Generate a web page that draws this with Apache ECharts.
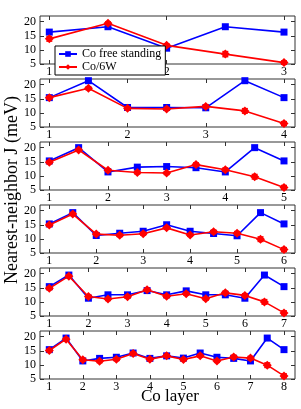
<!DOCTYPE html>
<html><head><meta charset="utf-8">
<script src="https://cdn.jsdelivr.net/npm/echarts@6/dist/echarts.min.js"></script>
<style>html,body{margin:0;padding:0;background:#fff}#c{width:301px;height:409px}</style>
</head><body><div id="c"></div>
<script>
// layer counts for each panel
var layerCounts = [3, 4, 5, 6, 7, 8];
var yTicks = [5, 10, 15, 20];
// x positions of points (layers and interfaces)
var pos1 = [1, 1.5, 2, 2.5, 3];
var pos2 = [1, 1.5, 2, 2.5, 3, 3.5, 4];
var pos3 = [1, 1.5, 2, 2.5, 3, 3.5, 4, 4.5, 5];
var pos4 = [1, 1.5, 2, 2.5, 3, 3.5, 4, 4.5, 5, 5.5, 6];
var pos5 = [1, 1.5, 2, 2.5, 3, 3.5, 4, 4.5, 5, 5.5, 6, 6.5, 7];
var pos6 = [1, 1.5, 2, 2.5, 3, 3.5, 4, 4.5, 5, 5.5, 6, 6.5, 7, 7.5, 8];
// Co free standing
var blue1 = [16.3, 18.2, 10.6, 18.2, 16.3];
var blue2 = [15.4, 21.4, 11.9, 11.9, 11.8, 21.4, 15.4];
var blue3 = [15.3, 20.0, 11.4, 13.1, 13.3, 12.9, 11.4, 20.0, 15.3];
var blue4 = [15.3, 19.3, 11.2, 12.0, 12.7, 15.0, 12.7, 11.9, 11.1, 19.3, 15.3];
var blue5 = [15.4, 19.5, 11.3, 12.5, 12.5, 14.0, 12.5, 13.9, 12.5, 12.5, 11.3, 19.5, 15.4];
var blue6 = [15.4, 19.5, 11.4, 12.3, 12.7, 14.2, 12.3, 13.2, 12.4, 14.2, 12.7, 12.3, 11.4, 19.5, 15.4];
// Co/6W
var red1 = [13.9, 19.4, 11.6, 8.5, 5.5];
var red2 = [15.4, 18.7, 11.6, 11.4, 12.3, 10.7, 6.2];
var red3 = [14.8, 19.2, 12.0, 11.2, 11.0, 14.0, 12.2, 9.7, 5.9];
var red4 = [14.9, 18.8, 11.7, 11.3, 11.8, 13.9, 11.4, 12.5, 12.0, 9.9, 6.2];
var red5 = [14.8, 19.1, 11.9, 11.0, 11.8, 14.3, 12.0, 12.9, 11.1, 13.2, 12.3, 10.0, 6.1];
var red6 = [15.1, 19.1, 11.8, 11.3, 12.0, 14.0, 12.0, 13.2, 11.9, 13.2, 11.4, 12.8, 12.4, 9.9, 6.1];
// error bars on Co/6W
var err1 = [0.8, 0.5, 0.5, 0.9, 0.6];
var err2 = [0.5, 0.5, 0.5, 0.5, 0.6, 0.8, 0.7];
var err3 = [0.5, 0.5, 0.5, 0.5, 0.5, 0.6, 0.6, 0.8, 0.7];
var err4 = [0.5, 0.5, 0.5, 0.5, 0.5, 0.5, 0.5, 0.6, 0.6, 0.8, 0.7];
var err5 = [0.5, 0.5, 0.5, 0.5, 0.5, 0.5, 0.5, 0.5, 0.5, 0.6, 0.6, 0.8, 0.7];
var err6 = [0.5, 0.5, 0.5, 0.5, 0.5, 0.5, 0.5, 0.5, 0.5, 0.5, 0.5, 0.6, 0.6, 0.8, 0.7];

var positions = [pos1, pos2, pos3, pos4, pos5, pos6];
var blues = [blue1, blue2, blue3, blue4, blue5, blue6];
var reds = [red1, red2, red3, red4, red5, red6];
var errs = [err1, err2, err3, err4, err5, err6];

var FONT = '"Liberation Serif", "DejaVu Serif", serif';
var BLUE = '#0000ff', RED = '#ff0000', AX = '#333';
var panelTops = [16, 79, 142, 205, 268, 331];
var panelH = 48;

var grids = [], xAxes = [], yAxes = [], series = [];
for (var p = 0; p < 6; p++) {
  var N = layerCounts[p];
  var unit = 234.7 / (N - 1);
  var xmin = 1 - 9.3 / unit, xmax = N + 11 / unit;
  var ticksX = [];
  for (var k = 1; k <= N; k++) ticksX.push(k);
  grids.push({left: 40, right: 6, top: panelTops[p], height: panelH,
    show: true, borderColor: AX, borderWidth: 1, backgroundColor: 'transparent'});
  var axLine = {show: false};
  xAxes.push({type: 'value', gridIndex: p, position: 'bottom', min: xmin, max: xmax,
    splitLine: {show: false}, axisLine: axLine,
    axisTick: {inside: true, length: 4, lineStyle: {color: AX}, customValues: ticksX},
    axisLabel: {customValues: ticksX, margin: 2, color: '#000', fontFamily: FONT, fontSize: 12}});
  xAxes.push({type: 'value', gridIndex: p, position: 'top', min: xmin, max: xmax,
    splitLine: {show: false}, axisLine: axLine,
    axisTick: {inside: true, length: 4, lineStyle: {color: AX}, customValues: ticksX},
    axisLabel: {show: false}});
  yAxes.push({type: 'value', gridIndex: p, position: 'left', min: 5, max: 22,
    splitLine: {show: false}, axisLine: axLine,
    axisTick: {inside: true, length: 4, lineStyle: {color: AX}, customValues: yTicks},
    axisLabel: {customValues: yTicks, margin: 4, color: '#000', fontFamily: FONT, fontSize: 12}});
  yAxes.push({type: 'value', gridIndex: p, position: 'right', min: 5, max: 22,
    splitLine: {show: false}, axisLine: axLine,
    axisTick: {inside: true, length: 4, lineStyle: {color: AX}, customValues: yTicks},
    axisLabel: {show: false}});
  var bd = [], rd = [], ed = [];
  for (var i = 0; i < positions[p].length; i++) {
    bd.push([positions[p][i], blues[p][i]]);
    rd.push([positions[p][i], reds[p][i]]);
    ed.push([positions[p][i], reds[p][i] - errs[p][i], reds[p][i] + errs[p][i]]);
  }
  series.push({name: 'Co free standing', type: 'line', xAxisIndex: 2 * p, yAxisIndex: 2 * p,
    data: bd, symbol: 'rect', symbolSize: 7, lineStyle: {color: BLUE, width: 1.6},
    itemStyle: {color: BLUE}, animation: false, z: 3});
  series.push({name: 'Co/6W', type: 'line', xAxisIndex: 2 * p, yAxisIndex: 2 * p,
    data: rd, symbol: 'diamond', symbolSize: 9, lineStyle: {color: RED, width: 1.6},
    itemStyle: {color: RED}, animation: false, z: 4});
  series.push({name: 'Co/6W', type: 'custom', xAxisIndex: 2 * p, yAxisIndex: 2 * p,
    data: ed, animation: false, z: 4,
    renderItem: function (params, api) {
      var lo = api.coord([api.value(0), api.value(1)]);
      var hi = api.coord([api.value(0), api.value(2)]);
      var w = 3;
      var st = {stroke: RED, lineWidth: 1.5};
      return {type: 'group', children: [
        {type: 'line', shape: {x1: lo[0], y1: lo[1], x2: hi[0], y2: hi[1]}, style: st},
        {type: 'line', shape: {x1: lo[0] - w, y1: lo[1], x2: lo[0] + w, y2: lo[1]}, style: st},
        {type: 'line', shape: {x1: hi[0] - w, y1: hi[1], x2: hi[0] + w, y2: hi[1]}, style: st}
      ]};
    }});
}

var chart = echarts.init(document.getElementById('c'), null, {renderer: 'canvas'});
chart.setOption({
  animation: false,
  grid: grids, xAxis: xAxes, yAxis: yAxes, series: series,
  legend: {data: ['Co free standing', 'Co/6W'], orient: 'vertical', left: 55, top: 46,
    itemWidth: 18, itemHeight: 7, itemGap: 1, padding: [2, 4, 2, 3],
    backgroundColor: '#fff', borderColor: '#000', borderWidth: 1, z: 10,
    textStyle: {fontFamily: FONT, fontSize: 12, color: '#000'}},
  graphic: [
    {type: 'text', x: 12, y: 190, rotation: Math.PI / 2,
      style: {text: 'Nearest-neighbor J (meV)', font: '18px ' + FONT, fill: '#000',
        textAlign: 'center', textVerticalAlign: 'middle'}},
    {type: 'text', x: 170, y: 397,
      style: {text: 'Co layer', font: '17px ' + FONT, fill: '#000',
        textAlign: 'center', textVerticalAlign: 'middle'}}
  ]
});
</script></body></html>
